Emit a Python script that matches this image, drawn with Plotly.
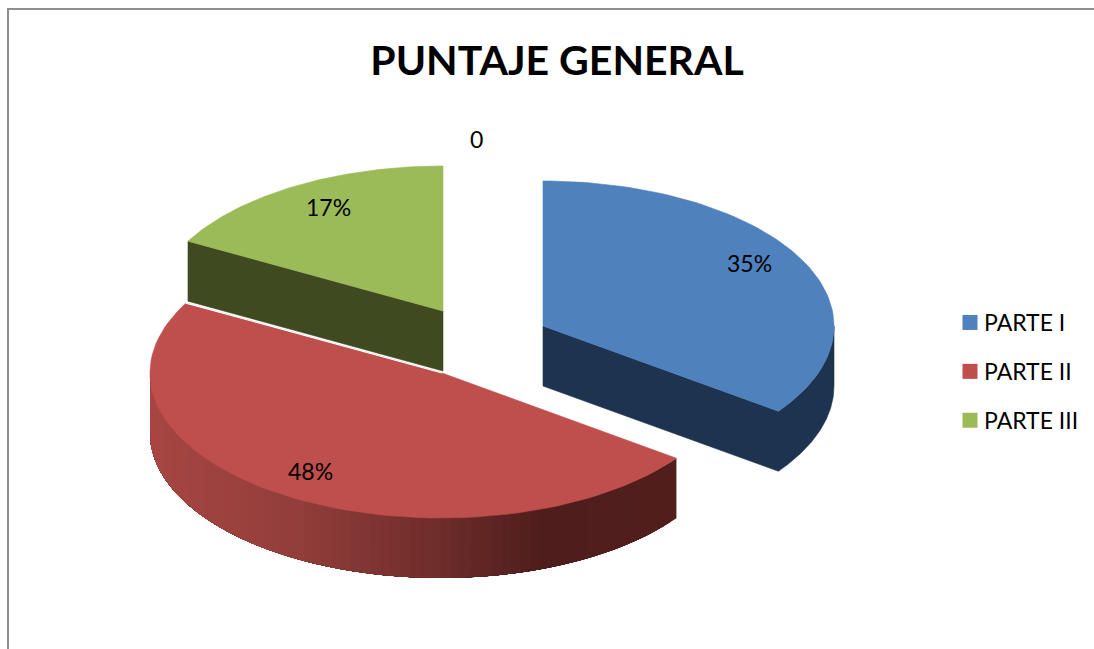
import math
import plotly.graph_objects as go

# ---- data ----
categories = ["PARTE I", "PARTE II", "PARTE III"]
values = [35, 48, 17]
extra_label = "0"

# ---- style / geometry ----
colors = ["#4F81BD", "#BE4F4C", "#9BBB59"]
dark = ["#1E334F", "#501F1C", "#3F4A20"]
W, H = 1094, 649
CX, CY, A, B, DEPTH = 442, 373, 291, 145, 60
offsets = [(101, -47), (-1, 0), (1, -62)]
FONT = "Lato, Carlito, sans-serif"
RAMP = [(150, (168, 70, 67)), (300, (146, 62, 59)), (440, (110, 45, 43)),
        (540, (79, 30, 28)), (680, (82, 31, 28))]


def rim(theta, off, drop=0):
    t = math.radians(theta)
    return CX + off[0] + A * math.sin(t), CY + off[1] + drop - B * math.cos(t)


def arc(t0, t1, off, drop=0, n=80):
    return [rim(t0 + (t1 - t0) * i / n, off, drop) for i in range(n + 1)]


def ramp(x):
    for (x0, c0), (x1, c1) in zip(RAMP, RAMP[1:]):
        if x <= x1:
            f = max(0, (x - x0) / (x1 - x0))
            return "rgb(%d,%d,%d)" % tuple(c0[i] + (c1[i] - c0[i]) * f for i in range(3))
    return "rgb(%d,%d,%d)" % RAMP[-1][1]


fig = go.Figure()


def poly(pts, fill, line=None, lw=0.6):
    fig.add_trace(go.Scatter(
        x=[p[0] for p in pts] + [pts[0][0]], y=[p[1] for p in pts] + [pts[0][1]],
        mode="lines", fill="toself", fillcolor=fill,
        line=dict(color=line or fill, width=lw),
        showlegend=False, hoverinfo="skip"))


total = sum(values)
spans = []
cum = 0
for v in values:
    spans.append((cum / total * 360, (cum + v) / total * 360))
    cum += v

# green: radial wall then top
t0, t1 = spans[2]
o = offsets[2]
apex = (CX + o[0], CY + o[1])
poly([rim(t0, o), apex, (apex[0], apex[1] + DEPTH), rim(t0, o, DEPTH)], dark[2])
poly([apex] + arc(t0, t1, o), colors[2])

# red: outer wall as overlapping gradient bands, then top with a white radial edge
t0, t1 = spans[1]
o = offsets[1]
apex = (CX + o[0] + 1, CY + o[1])
N = 72
tw1 = 270
for i in range(N):
    a0 = t0 + (tw1 - t0) * i / N
    a1 = t0 + (tw1 - t0) * (i + 1) / N
    top = arc(a0, tw1, o, 0, 80)
    bot = arc(tw1, a0, o, DEPTH, 80)
    poly(top + bot, ramp(rim((a0 + a1) / 2, o)[0]), lw=0)
poly([apex] + arc(t0, t1, o), colors[1])
p = rim(t1, o)
fig.add_trace(go.Scatter(x=[p[0], apex[0]], y=[p[1], apex[1]], mode="lines",
                         line=dict(color="white", width=1.2),
                         showlegend=False, hoverinfo="skip"))

# blue: wall (radial face and outer face as one shape) then top
t0, t1 = spans[0]
o = offsets[0]
apex = (CX + o[0], CY + o[1])
poly([apex] + arc(t1, 90, o) + arc(90, t1, o, DEPTH) + [(apex[0], apex[1] + DEPTH)], dark[0])
poly([apex] + arc(t0, t1, o), colors[0])

# legend entries
for name, col in zip(categories, colors):
    fig.add_trace(go.Scatter(x=[None], y=[None], mode="markers", name=name, legendgroup=name,
                             marker=dict(symbol="square", size=15, color=col)))

# data labels
label_pos = [(749, 263), (310, 471), (328, 207)]
for v, (lx, ly) in zip(values, label_pos):
    fig.add_annotation(x=lx, y=ly, text=f"{v}%", showarrow=False,
                       font=dict(family=FONT, size=23, color="black"))
fig.add_annotation(x=476, y=139, text=extra_label, showarrow=False,
                   font=dict(family=FONT, size=23, color="black"))

fig.update_layout(
    width=W, height=H, margin=dict(l=0, r=0, t=0, b=0),
    paper_bgcolor="white", plot_bgcolor="white",
    title=dict(text="<b>PUNTAJE GENERAL</b>", x=557 / W, y=1 - 61 / H, xanchor="center", yanchor="middle",
               font=dict(family=FONT, size=41, color="black")),
    xaxis=dict(range=[0, W], visible=False, fixedrange=True),
    yaxis=dict(range=[H, 0], visible=False, fixedrange=True),
    legend=dict(x=950 / W, y=1 - 301 / H, xanchor="left", yanchor="top", tracegroupgap=16,
                font=dict(family=FONT, size=23, color="black"), itemwidth=30,
                bgcolor="rgba(0,0,0,0)"),
    shapes=[
        dict(type="line", xref="paper", yref="paper", x0=8 / W, x1=8 / W, y0=0, y1=1 - 8 / H,
             line=dict(color="#8E8E8E", width=2)),
        dict(type="line", xref="paper", yref="paper", x0=8 / W, x1=1, y0=1 - 9 / H, y1=1 - 9 / H,
             line=dict(color="#8E8E8E", width=2)),
    ],
)
fig.write_html(
    "out.html",
    config={"displayModeBar": False},
    post_script="document.body.style.margin='0';"
                "document.querySelectorAll('.legendtext').forEach(function(t){t.setAttribute('x',34);});",
)
